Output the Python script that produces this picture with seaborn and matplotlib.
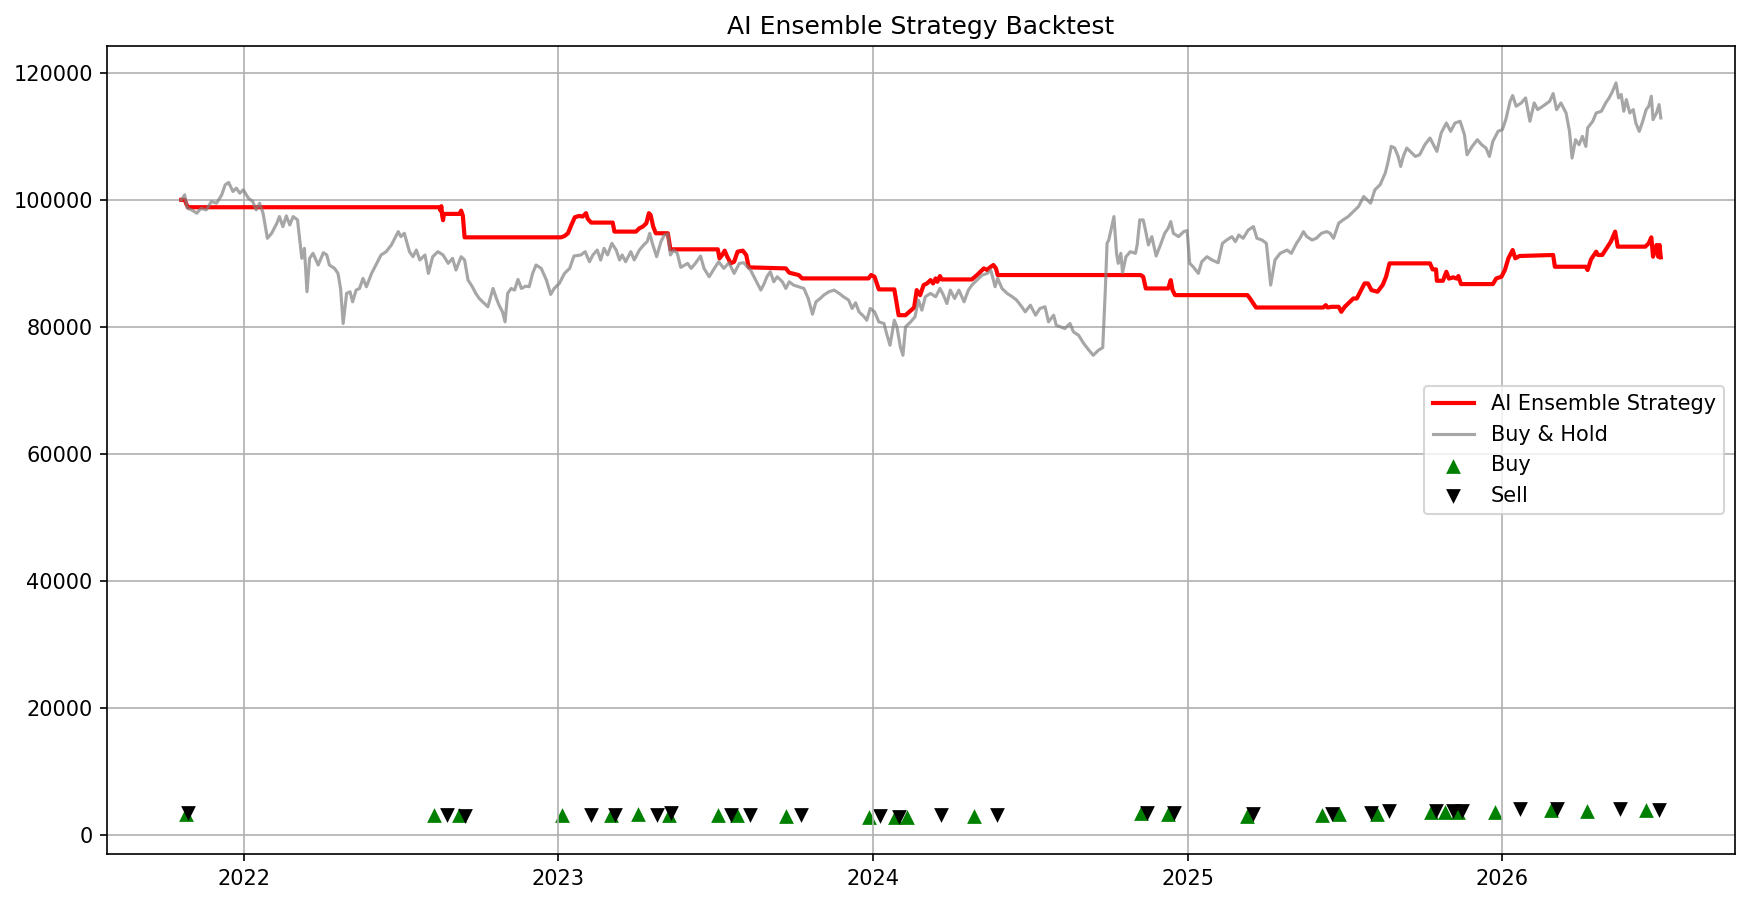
import numpy as np
import pandas as pd
import matplotlib
matplotlib.use("Agg")
import matplotlib.pyplot as plt
import seaborn as sns

# Dates are given as days since 2022-01-01
START = pd.Timestamp("2022-01-01")

strat_day = [-73, -69, -67, -65, 227, 228, 229, 230, 231, 232, 250, 252, 254, 256,
             368, 372, 376, 380, 384, 389, 393, 397, 399, 403, 428, 430, 455, 459,
             463, 467, 470, 472, 475, 478, 492, 495, 550, 552, 555, 558, 561, 565,
             569, 573, 579, 583, 586, 629, 633, 644, 648, 725, 728, 732, 737, 755,
             760, 768, 778, 781, 785, 789, 793, 797, 800, 803, 805, 808, 810, 845,
             851, 859, 863, 866, 870, 873, 875, 1041, 1044, 1047, 1073, 1076, 1078,
             1081, 1165, 1168, 1175, 1253, 1256, 1258, 1263, 1271, 1274, 1278, 1284,
             1288, 1292, 1297, 1301, 1305, 1309, 1316, 1322, 1326, 1330, 1377, 1380,
             1384, 1385, 1392, 1396, 1399, 1404, 1408, 1410, 1413, 1450, 1454, 1460,
             1464, 1468, 1473, 1476, 1481, 1520, 1522, 1558, 1560, 1564, 1570, 1572,
             1577, 1582, 1587, 1592, 1595, 1627, 1631, 1634, 1636, 1640, 1642, 1643.5,
             1645]
strat_value = [100000, 100000, 99300, 98840, 98840, 98300, 99000, 97500, 96800, 97790,
               97790, 98300, 97500, 94100, 94100, 94300, 94740, 96050, 97260, 97470,
               97370, 97900, 97000, 96420, 96420, 95000, 95000, 95530, 95800, 96300,
               97900, 97600, 95800, 94740, 94740, 92210, 92210, 90790, 91300, 92000,
               91050, 90000, 90260, 91840, 92000, 91320, 89370, 89210, 88530, 88160,
               87630, 87630, 88160, 87900, 85900, 85900, 81840, 81840, 83050, 85790,
               85000, 86580, 86840, 87370, 86840, 87630, 87100, 88000, 87470, 87470,
               88160, 89210, 88950, 89370, 89740, 89210, 88160, 88160, 87890, 86050,
               86050, 87370, 85800, 85000, 85000, 84470, 83050, 83050, 83420, 83050,
               83160, 83160, 82370, 83160, 83950, 84470, 84470, 85790, 86840, 86840,
               85790, 85530, 86580, 87890, 90000, 90000, 89050, 89050, 87260, 87260,
               88680, 87600, 87800, 87600, 88000, 86740, 86740, 87630, 87900, 88950,
               90790, 92100, 90790, 91160, 91320, 89470, 89470, 88950, 90630, 91840,
               91320, 91320, 92370, 93420, 95000, 92630, 92630, 93160, 94100, 91050,
               92900, 91050, 92900, 90950]

bh_day = [-73, -69, -66, -61, -55, -50, -44, -38, -32, -26, -22, -18, -13, -9, -5, -1,
          5, 10, 14, 18, 22, 27, 32, 38, 41, 45, 49, 53, 57, 62, 67, 70, 73, 76, 80, 86,
          92, 96, 99, 105, 109, 112, 115, 119, 123, 126, 130, 134, 138, 142, 148, 153,
          159, 165, 171, 176, 179, 182, 186, 192, 196, 200, 204, 210, 214, 219, 225,
          231, 237, 242, 246, 252, 256, 260, 265, 269, 273, 279, 283, 289, 293, 296,
          300, 303, 306, 310, 314, 318, 322, 327, 331, 335, 339, 345, 351, 356, 360,
          366, 372, 378, 383, 391, 396, 401, 405, 410, 414, 418, 422, 427, 432, 436,
          439, 443, 449, 453, 459, 464, 468, 471, 474, 479, 484, 488, 492, 495, 499,
          503, 507, 515, 519, 524, 530, 534, 540, 546, 551, 557, 563, 569, 575, 580,
          588, 594, 600, 604, 607, 611, 615, 619, 625, 629, 633, 638, 644, 650, 655,
          660, 664, 669, 673, 679, 685, 691, 696, 702, 706, 710, 714, 720, 723, 727,
          732, 737, 743, 746, 750, 755, 758, 762, 765, 768, 774, 779, 783, 787, 791,
          797, 803, 808, 812, 816, 820, 825, 830, 836, 841, 845, 851, 857, 863, 867,
          872, 875, 880, 886, 892, 897, 903, 907, 913, 919, 924, 930, 934, 940, 943,
          948, 953, 959, 963, 969, 975, 981, 986, 992, 997, 1000, 1002, 1004, 1010,
          1013, 1015, 1018, 1020, 1024, 1029, 1035, 1037, 1040, 1044, 1047, 1050, 1054,
          1059, 1064, 1069, 1073, 1076, 1079, 1085, 1091, 1095, 1098, 1102, 1108, 1112,
          1118, 1124, 1131, 1136, 1141, 1147, 1151, 1155, 1160, 1166, 1172, 1176, 1182,
          1187, 1192, 1197, 1203, 1211, 1216, 1222, 1226, 1230, 1234, 1240, 1245, 1251,
          1257, 1261, 1265, 1271, 1276, 1282, 1288, 1294, 1300, 1304, 1308, 1313, 1319,
          1325, 1328, 1332, 1336, 1340, 1343, 1346, 1350, 1356, 1360, 1365, 1371, 1377,
          1381, 1385, 1390, 1396, 1401, 1406, 1412, 1417, 1420, 1426, 1432, 1437, 1442,
          1446, 1450, 1456, 1461, 1465, 1470, 1473, 1477, 1483, 1488, 1493, 1498, 1502,
          1508, 1516, 1520, 1524, 1529, 1535, 1539, 1542, 1546, 1550, 1554, 1558, 1560,
          1566, 1570, 1576, 1581, 1585, 1589, 1593, 1596, 1599, 1602, 1605, 1609, 1613,
          1616, 1620, 1624, 1628, 1631, 1634, 1636, 1640, 1643, 1645]
bh_value = [100000, 100790, 98680, 98420, 97900, 98680, 98420, 99740, 99470, 100790,
            102370, 102740, 101320, 101840, 101050, 101580, 100260, 99740, 98420, 99470,
            97900, 93950, 94740, 96320, 97370, 95790, 97470, 96050, 97370, 96840, 90790,
            92370, 85530, 90790, 91580, 89740, 91680, 91320, 89740, 89210, 88420, 86050,
            80530, 85270, 85530, 83950, 85790, 86050, 87630, 86320, 88420, 89740, 91320,
            91840, 92900, 94210, 95000, 94210, 94740, 91840, 91050, 92100, 90530, 91320,
            88420, 91050, 91840, 91320, 90000, 90790, 88950, 91050, 90530, 87370, 86320,
            85270, 84470, 83680, 83160, 86050, 84470, 83420, 82370, 80790, 85270, 86050,
            85790, 87470, 86050, 86420, 86320, 88420, 89740, 89210, 87370, 85110, 86050,
            86840, 88420, 89210, 91160, 91320, 91840, 90260, 91320, 92100, 90530, 92370,
            91320, 93160, 92100, 90530, 91320, 90260, 91840, 90530, 92100, 92900, 93420,
            94740, 93160, 91050, 93420, 94470, 94630, 91320, 92100, 91580, 89370, 90000,
            89210, 90000, 91160, 89210, 87890, 89210, 90260, 89210, 90100, 88420, 90000,
            90100, 88950, 87370, 85790, 86840, 87890, 88690, 87100, 87890, 87100, 86050,
            87100, 86580, 86320, 86050, 84470, 82000, 83950, 84470, 85000, 85530, 85790,
            85270, 84740, 84210, 82900, 83790, 82370, 81580, 81050, 82900, 82370, 80790,
            80530, 78950, 77110, 81050, 80000, 76840, 75530, 80000, 80790, 81580, 84210,
            82630, 84740, 85270, 84740, 86050, 85000, 83680, 85790, 84470, 85790, 83950,
            85790, 86580, 87370, 88160, 88420, 88950, 86320, 87630, 86050, 85270, 84740,
            84210, 83160, 82370, 83420, 81840, 82900, 83160, 80790, 81840, 80260, 80000,
            79740, 80530, 79210, 78680, 77370, 76320, 75530, 76320, 76740, 85790, 93160,
            93680, 97370, 91580, 90000, 91580, 88530, 91050, 91840, 91580, 92900, 96840,
            96840, 95000, 92900, 94210, 91160, 92900, 94740, 95530, 96580, 94740, 94210,
            95000, 95160, 90000, 89470, 88420, 90260, 91050, 90530, 90100, 93160, 93680,
            94210, 93420, 94470, 93950, 95260, 95790, 93950, 93680, 93160, 86580, 90530,
            91580, 92100, 91580, 93160, 93950, 95000, 94210, 93680, 93950, 94740, 95000,
            94740, 93950, 96320, 96840, 97370, 98160, 98950, 100530, 100000, 99470,
            101580, 102370, 104210, 105790, 108420, 108160, 106840, 105260, 106840,
            108160, 107370, 106840, 107100, 108680, 109740, 108680, 107630, 110530,
            112100, 110790, 112100, 112370, 110260, 107100, 108420, 109470, 108680,
            108160, 106840, 109210, 110790, 111050, 112630, 115530, 116420, 114740,
            115260, 116050, 112370, 115260, 114210, 114740, 115530, 116740, 114210,
            115260, 113680, 110790, 106580, 109470, 108680, 110000, 108420, 111320,
            112370, 113680, 113950, 115260, 116050, 117100, 118420, 116050, 116580,
            113950, 115790, 113680, 114210, 112100, 110790, 112370, 114210, 114740,
            116320, 112630, 113680, 115000, 112900]

buy_day = [-68, 221, 250, 369, 426, 457, 493, 550, 572, 629, 726, 756, 770, 847, 1042,
           1073, 1164, 1252, 1271, 1315, 1378, 1394, 1410, 1452, 1518, 1559, 1628]
buy_price = [3316, 3105, 3105, 3105, 3105, 3316, 3210, 3105, 3105, 3000, 2895, 2789,
             2789, 3000, 3420, 3316, 3000, 3210, 3316, 3316, 3684, 3631, 3631, 3684,
             3947, 3790, 3947]
sell_day = [-65, 236, 257, 403, 431, 479, 496, 565, 587, 647, 738, 761, 809, 874, 1048,
            1080, 1172, 1263, 1309, 1329, 1384, 1404, 1414, 1482, 1524, 1598, 1643]
sell_price = [3470, 3158, 3000, 3158, 3210, 3210, 3420, 3210, 3210, 3105, 3000, 2789,
              3105, 3105, 3420, 3420, 3263, 3316, 3526, 3790, 3790, 3790, 3790, 4053,
              4053, 4053, 3895]


def to_dates(days):
    return START + pd.to_timedelta(np.asarray(days, dtype=float), unit="D")


DPI = 150
fig, ax = plt.subplots(figsize=(1750 / DPI, 905 / DPI), dpi=DPI)

sns.lineplot(x=to_dates(strat_day), y=strat_value, color="red", linewidth=2,
             label="AI Ensemble Strategy", ax=ax)
sns.lineplot(x=to_dates(bh_day), y=bh_value, color="gray", alpha=0.7, linewidth=1.5,
             label="Buy & Hold", ax=ax)
sns.scatterplot(x=to_dates(buy_day), y=buy_price, marker="^", color="green", s=50,
                linewidth=0, label="Buy", ax=ax)
sns.scatterplot(x=to_dates(sell_day), y=sell_price, marker="v", color="black", s=50,
                linewidth=0, label="Sell", ax=ax)

ax.set_title("AI Ensemble Strategy Backtest")
ax.set_xlabel("")
ax.set_ylabel("")
ax.grid(True)
ax.legend(loc="center right")

fig.subplots_adjust(left=0.0613, right=0.9913, top=0.949, bottom=0.0564)
fig.savefig("out.png", dpi=DPI)
